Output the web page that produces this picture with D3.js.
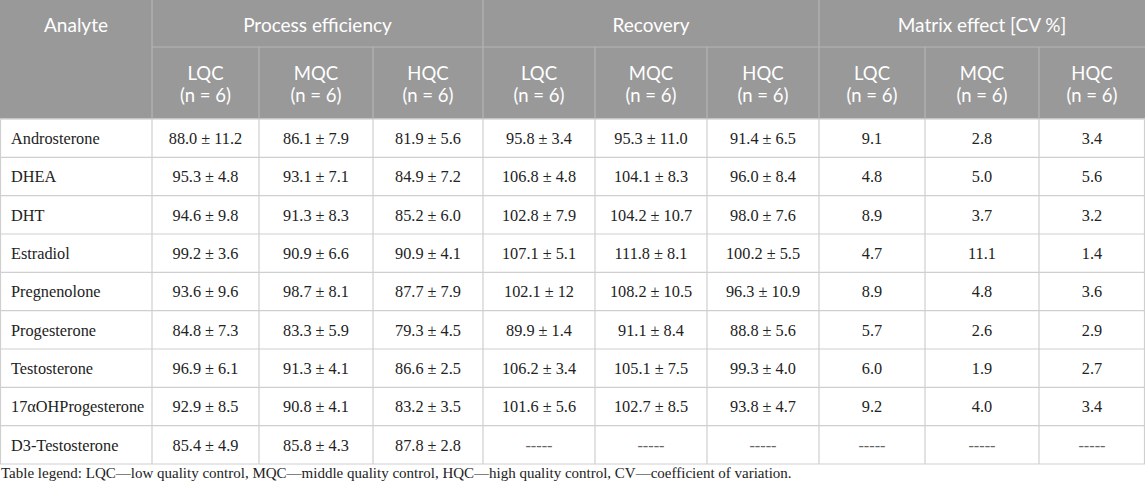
<!DOCTYPE html>
<html><head><meta charset="utf-8">
<script src="https://cdn.jsdelivr.net/npm/d3@7"></script>
<style>
html,body{margin:0;padding:0;background:#fff;}
svg{display:block;}
</style></head>
<body>
<script>
// ---- data ----
const analytes = ["Androsterone","DHEA","DHT","Estradiol","Pregnenolone","Progesterone","Testosterone","17αOHProgesterone","D3-Testosterone"];
const groups = ["Process efficiency","Recovery","Matrix effect [CV %]"];
const levels = ["LQC","MQC","HQC"];
const nLabel = "(n = 6)";
const peLQC = ["88.0 ± 11.2","95.3 ± 4.8","94.6 ± 9.8","99.2 ± 3.6","93.6 ± 9.6","84.8 ± 7.3","96.9 ± 6.1","92.9 ± 8.5","85.4 ± 4.9"];
const peMQC = ["86.1 ± 7.9","93.1 ± 7.1","91.3 ± 8.3","90.9 ± 6.6","98.7 ± 8.1","83.3 ± 5.9","91.3 ± 4.1","90.8 ± 4.1","85.8 ± 4.3"];
const peHQC = ["81.9 ± 5.6","84.9 ± 7.2","85.2 ± 6.0","90.9 ± 4.1","87.7 ± 7.9","79.3 ± 4.5","86.6 ± 2.5","83.2 ± 3.5","87.8 ± 2.8"];
const recLQC = ["95.8 ± 3.4","106.8 ± 4.8","102.8 ± 7.9","107.1 ± 5.1","102.1 ± 12","89.9 ± 1.4","106.2 ± 3.4","101.6 ± 5.6","-----"];
const recMQC = ["95.3 ± 11.0","104.1 ± 8.3","104.2 ± 10.7","111.8 ± 8.1","108.2 ± 10.5","91.1 ± 8.4","105.1 ± 7.5","102.7 ± 8.5","-----"];
const recHQC = ["91.4 ± 6.5","96.0 ± 8.4","98.0 ± 7.6","100.2 ± 5.5","96.3 ± 10.9","88.8 ± 5.6","99.3 ± 4.0","93.8 ± 4.7","-----"];
const meLQC = ["9.1","4.8","8.9","4.7","8.9","5.7","6.0","9.2","-----"];
const meMQC = ["2.8","5.0","3.7","11.1","4.8","2.6","1.9","4.0","-----"];
const meHQC = ["3.4","5.6","3.2","1.4","3.6","2.9","2.7","3.4","-----"];
const legendText = "Table legend: LQC—low quality control, MQC—middle quality control, HQC—high quality control, CV—coefficient of variation.";

// ---- layout ----
const W = 1145, H = 490;
const colEdges = [0,152,259,373,483,595,707,819,925,1039,1145];
const headTop = 0, head1 = 47, headBot = 119, tableBot = 464;
const columns = [peLQC,peMQC,peHQC,recLQC,recMQC,recHQC,meLQC,meMQC,meHQC];

const svg = d3.select("body").append("svg").attr("width",W).attr("height",H);

const y = d3.scaleBand().domain(analytes).range([headBot, tableBot]);
const xc = i => (colEdges[i]+colEdges[i+1])/2;

const headBg = "#999999", headLine = "#b5b5b5", bodyLine = "#cfcfcf";
const sans = "Lato, 'Open Sans', sans-serif";
const serif = "'Liberation Serif', 'Times New Roman', serif";
const headSize = 19, subSize = 18.5, bodySize = 16.3;

// header background
svg.append("rect").attr("x",0).attr("y",headTop).attr("width",W).attr("height",headBot-headTop).attr("fill",headBg);

// body grid
const g = svg.append("g");
g.selectAll("line.h").data(analytes).join("line")
  .attr("x1",0).attr("x2",W)
  .attr("y1",d=>y(d)+y.bandwidth()).attr("y2",d=>y(d)+y.bandwidth())
  .attr("stroke",bodyLine).attr("stroke-width",1.2);
g.selectAll("line.v").data(colEdges).join("line")
  .attr("x1",d=>Math.min(Math.max(d,0.5),W-0.5)).attr("x2",d=>Math.min(Math.max(d,0.5),W-0.5))
  .attr("y1",headBot).attr("y2",tableBot)
  .attr("stroke",bodyLine).attr("stroke-width",1.2);

// header lines
svg.append("line").attr("x1",colEdges[1]).attr("x2",W).attr("y1",head1).attr("y2",head1)
  .attr("stroke",headLine).attr("stroke-width",1.2);
svg.append("line").attr("x1",0).attr("x2",W).attr("y1",headBot).attr("y2",headBot)
  .attr("stroke","#d6d6d6").attr("stroke-width",1.5);
[1,4,7].forEach(i=>{
  svg.append("line").attr("x1",colEdges[i]).attr("x2",colEdges[i]).attr("y1",headTop).attr("y2",headBot)
    .attr("stroke",headLine).attr("stroke-width",1.2);
});
[2,3,5,6,8,9].forEach(i=>{
  svg.append("line").attr("x1",colEdges[i]).attr("x2",colEdges[i]).attr("y1",head1).attr("y2",headBot)
    .attr("stroke",headLine).attr("stroke-width",1.2);
});

// header text
const row1Y = 25.5;
svg.append("text").attr("x",xc(0)).attr("y",row1Y).attr("dy","0.35em")
  .attr("text-anchor","middle").attr("fill","#fff").attr("font-family",sans).attr("font-size",headSize).text("Analyte");
groups.forEach((gname,gi)=>{
  const a = colEdges[1+gi*3], b = colEdges[4+gi*3];
  svg.append("text").attr("x",(a+b)/2).attr("y",row1Y).attr("dy","0.35em")
    .attr("text-anchor","middle").attr("fill","#fff").attr("font-family",sans).attr("font-size",headSize).text(gname);
  levels.forEach((lv,li)=>{
    const ci = 1+gi*3+li;
    const mid = (head1+headBot)/2;
    svg.append("text").attr("text-anchor","middle").attr("fill","#fff")
      .attr("font-family",sans).attr("font-size",subSize)
      .attr("x",xc(ci)).attr("y",mid-9).attr("dy","0.35em").text(lv);
    svg.append("text").attr("text-anchor","middle").attr("fill","#fff")
      .attr("font-family",sans).attr("font-size",subSize)
      .attr("x",xc(ci)).attr("y",mid+13).attr("dy","0.35em").text(nLabel);
  });
});

// body text
svg.append("g").selectAll("text").data(analytes).join("text")
  .attr("x",11).attr("y",d=>y(d)+y.bandwidth()/2).attr("dy","0.35em")
  .attr("font-family",serif).attr("font-size",bodySize).attr("fill","#222").text(d=>d);
columns.forEach((col,ci)=>{
  svg.append("g").selectAll("text").data(col).join("text")
    .attr("x",xc(ci+1)).attr("y",(d,i)=>y(analytes[i])+y.bandwidth()/2).attr("dy","0.35em")
    .attr("text-anchor","middle").attr("font-family",serif).attr("font-size",bodySize)
    .attr("fill",d=>d.startsWith("-")?"#666":"#222").text(d=>d);
});

// legend
svg.append("text").attr("x",1).attr("y",478).attr("font-family",serif).attr("font-size",15)
  .attr("fill","#222").text(legendText);
</script>
</body></html>
